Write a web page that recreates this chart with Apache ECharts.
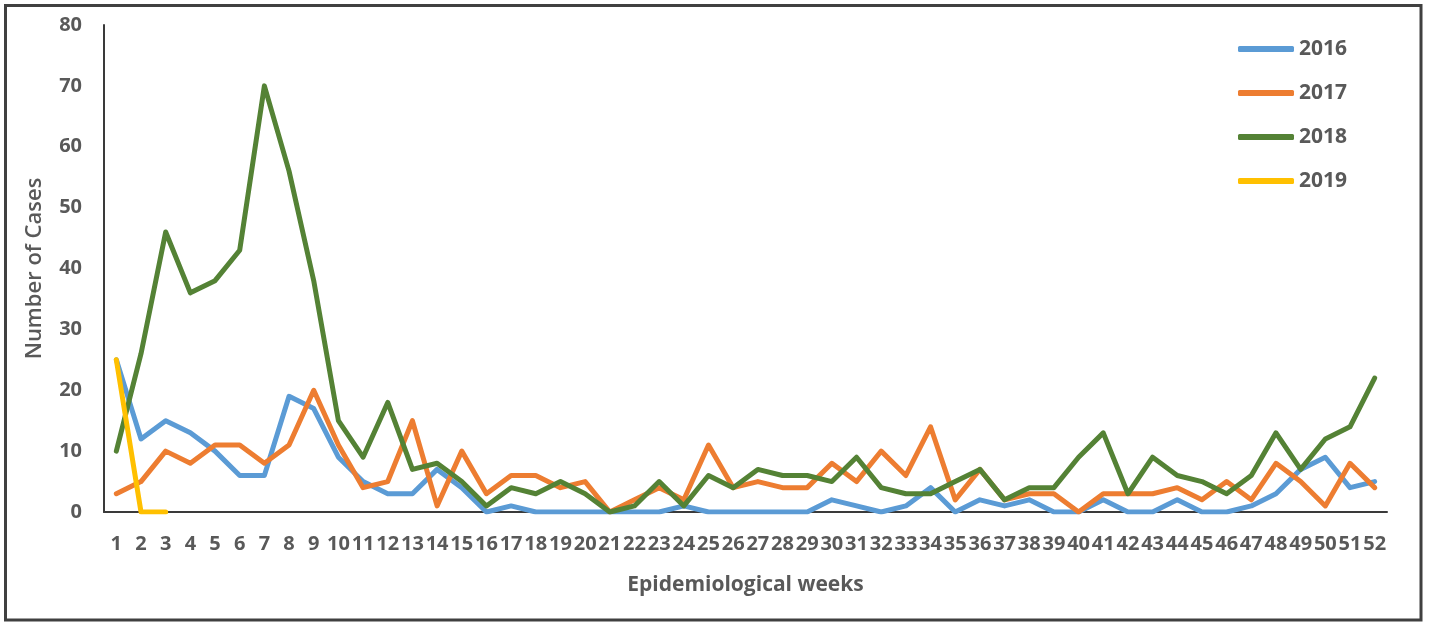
<!DOCTYPE html>
<html>
<head>
<meta charset="utf-8">
<script src="https://cdn.jsdelivr.net/npm/echarts@6/dist/echarts.min.js"></script>
<style>
html,body{margin:0;padding:0;background:#fff;}
#c{width:1429px;height:624px;}
</style>
</head>
<body>
<div id="c"></div>
<script>
const weeks = Array.from({length: 52}, (_, i) => String(i + 1));
const cases2016 = [25,12,15,13,10,6,6,19,17,9,5,3,3,7,4,0,1,0,0,0,0,0,0,1,0,0,0,0,0,2,1,0,1,4,0,2,1,2,0,0,2,0,0,2,0,0,1,3,7,9,4,5];
const cases2017 = [3,5,10,8,11,11,8,11,20,11,4,5,15,1,10,3,6,6,4,5,0,2,4,2,11,4,5,4,4,8,5,10,6,14,2,7,2,3,3,0,3,3,3,4,2,5,2,8,5,1,8,4];
const cases2018 = [10,26,46,36,38,43,70,56,38,15,9,18,7,8,5,1,4,3,5,3,0,1,5,1,6,4,7,6,6,5,9,4,3,3,5,7,2,4,4,9,13,3,9,6,5,3,6,13,7,12,14,22];
const cases2019 = [25,0,0];
const yTicks = [0,10,20,30,40,50,60,70,80];

const txt = '#595959';
const font = 'Open Sans';
const chart = echarts.init(document.getElementById('c'));
function mk(name, data, color) {
  return {name, type: 'line', data, symbol: 'none', smooth: false,
    lineStyle: {width: 5, color, cap: 'round', join: 'round'}, itemStyle: {color}};
}
chart.setOption({
  animation: false,
  textStyle: {fontFamily: font},
  grid: {left: 104, right: 42, top: 25, bottom: 112},
  graphic: [{type: 'rect', shape: {x: 5.5, y: 5.5, width: 1415.5, height: 614.5},
    style: {fill: 'none', stroke: '#404040', lineWidth: 3}}],
  legend: {orient: 'vertical', left: 1233, top: 30, itemWidth: 56, itemHeight: 6, itemGap: 16,
    icon: 'roundRect',
    textStyle: {color: txt, fontFamily: font, fontWeight: 'bold', fontSize: 21, lineHeight: 28}},
  xAxis: {type: 'category', data: weeks, boundaryGap: true,
    name: 'Epidemiological weeks', nameLocation: 'middle', nameGap: 63,
    nameTextStyle: {color: txt, fontFamily: font, fontWeight: 'bold', fontSize: 21},
    axisLine: {lineStyle: {color: '#3a3a3a', width: 2}}, axisTick: {show: false},
    axisLabel: {interval: 0, color: txt, fontFamily: font, fontWeight: 'bold', fontSize: 20, margin: 22}},
  yAxis: {type: 'value', min: 0, max: 80, interval: 10,
    name: 'Number of Cases', nameLocation: 'middle', nameGap: 58,
    nameTextStyle: {color: txt, fontFamily: font, fontWeight: 600, fontSize: 22},
    axisLine: {show: true, lineStyle: {color: '#3a3a3a', width: 2}}, axisTick: {show: false},
    splitLine: {show: false},
    axisLabel: {color: txt, fontFamily: font, fontWeight: 'bold', fontSize: 20, margin: 22,
      formatter: v => yTicks.includes(v) ? String(v) : ''}},
  series: [
    mk('2016', cases2016, '#5B9BD5'),
    mk('2017', cases2017, '#ED7D31'),
    mk('2018', cases2018, '#548235'),
    mk('2019', cases2019, '#FFC000')
  ]
});
</script>
</body>
</html>
